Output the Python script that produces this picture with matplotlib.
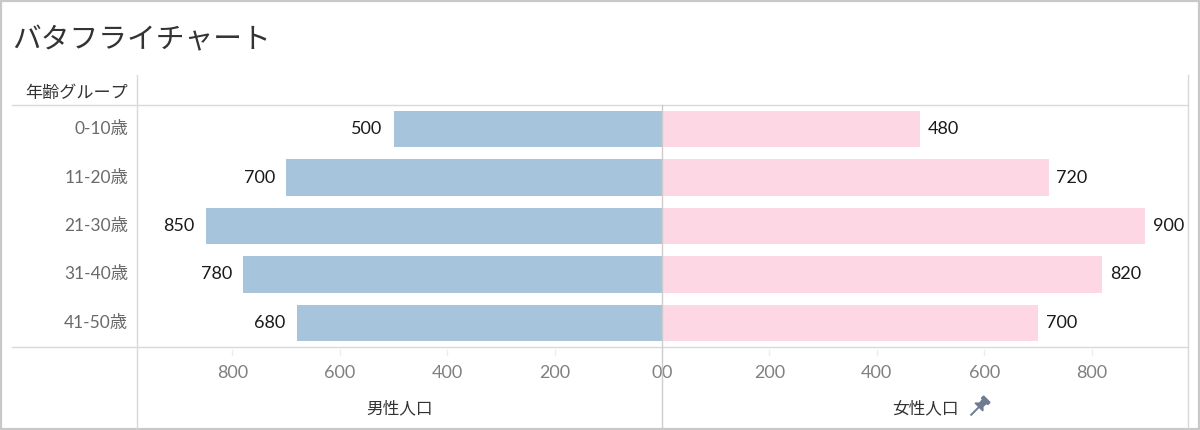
import matplotlib.pyplot as plt
from matplotlib.lines import Line2D
from matplotlib.patches import Polygon, Rectangle
from matplotlib.transforms import Affine2D

plt.rcParams['font.family'] = ['Lato', 'Noto Sans CJK JP', 'DejaVu Sans']

age_groups = ['0-10歳', '11-20歳', '21-30歳', '31-40歳', '41-50歳']
male = [500, 700, 850, 780, 680]
female = [480, 720, 900, 820, 700]
ticks = [0, 200, 400, 600, 800]

W, H = 1200, 430
fig = plt.figure(figsize=(W / 100, H / 100), dpi=100)


def fx(x):
    return x / W


def fy(y):
    return 1 - y / H


def hline(y, x0, x1, c='#d9d9d9', lw=1.0):
    fig.add_artist(Line2D([fx(x0), fx(x1)], [fy(y), fy(y)], color=c, lw=lw))


def vline(x, y0, y1, c='#d9d9d9', lw=1.0):
    fig.add_artist(Line2D([fx(x), fx(x)], [fy(y0), fy(y1)], color=c, lw=lw))


# pane geometry in pixels
top, bottom = 105, 347
xl, xc, xr = 137, 662, 1188
scale = 0.537  # px per unit
ph = bottom - top

ax_l = fig.add_axes([fx(xl), fy(bottom), fx(xc - xl), ph / H])
ax_r = fig.add_axes([fx(xc), fy(bottom), fx(xr - xc), ph / H])

pos = list(range(len(age_groups)))
ax_l.barh(pos, male, height=0.75, color='#a7c4dd')
ax_r.barh(pos, female, height=0.75, color='#fdd7e4')

ax_l.set_xlim((xc - xl) / scale, 0)
ax_r.set_xlim(0, (xr - xc) / scale)

for ax, vals, side in [(ax_l, male, 'l'), (ax_r, female, 'r')]:
    ax.set_ylim(len(age_groups) - 0.5, -0.5)
    ax.set_yticks([])
    ax.set_xticks([])
    for s in ax.spines.values():
        s.set_visible(False)
    for p, v in zip(pos, vals):
        ax.annotate(f'{v}', (v, p), xytext=(-8 if side == 'l' else 5.5, 0),
                    textcoords='offset points', va='center',
                    ha='right' if side == 'l' else 'left',
                    fontsize=13, color='#1a1a1a')
    # axis tick labels below the pane
    for t in ticks:
        ha = 'center'
        if t == 0:
            ha = 'right' if side == 'l' else 'left'
        ax.text(t, -(372.5 - bottom) / ph, f'{t}',
                transform=ax.get_xaxis_transform(),
                ha=ha, va='center', fontsize=13, color='#808080')
        if t:
            ax.plot([t, t], [-3 / ph, -8 / ph],
                    transform=ax.get_xaxis_transform(), color='#ededed',
                    lw=1, clip_on=False)

# row labels
for p, g in zip(pos, age_groups):
    y = top + ph * (p + 0.5) / len(age_groups)
    fig.text(fx(128), fy(y), g, ha='right', va='center',
             fontsize=12.5, color='#6a6a6a')

fig.text(fx(128), fy(93), '年齢グループ', ha='right', va='center',
         fontsize=12.3, color='#333333')
fig.text(fx(12), fy(40), 'バタフライチャート', ha='left', va='center',
         fontsize=20.7, color='#333333')

fig.text(fx((xl + xc) / 2), fy(408), '男性人口', ha='center', va='center',
         fontsize=12, color='#333333')
fig.text(fx(925), fy(408), '女性人口', ha='center', va='center',
         fontsize=12, color='#333333')

# pin icon, drawn upright in pixel units then tilted 45 degrees
pin_col = '#6f7b91'
pin_tf = Affine2D().translate(0, 1).rotate_deg(-45).translate(979, H - 407)
pin_parts = [
    [(-4.5, 7), (4.5, 7), (4.5, 10), (-4.5, 10)],
    [(-2.8, 7), (2.8, 7), (2.2, 1.5), (-2.2, 1.5)],
    [(-5.5, -1), (5.5, -1), (2.5, 2), (-2.5, 2)],
]
for pts in pin_parts:
    fig.add_artist(Polygon(pin_tf.transform(pts), closed=True, color=pin_col,
                           transform=None))
needle = pin_tf.transform([(0, -1), (0, -12)])
fig.add_artist(Line2D(needle[:, 0], needle[:, 1], color=pin_col, lw=1.4,
                      transform=None))

# grid lines of the table layout
hline(top, 12, xr)
hline(bottom, 12, xr)
vline(xl, 75, 428)
vline(xr, 75, 428)
vline(xc, top, 428, c='#cccccc')

# outer border
fig.add_artist(Rectangle((0, 0), 1, 1, fill=False, ec='#c8c8c8', lw=3,
                         transform=fig.transFigure))

fig.savefig('out.png', dpi=100)
